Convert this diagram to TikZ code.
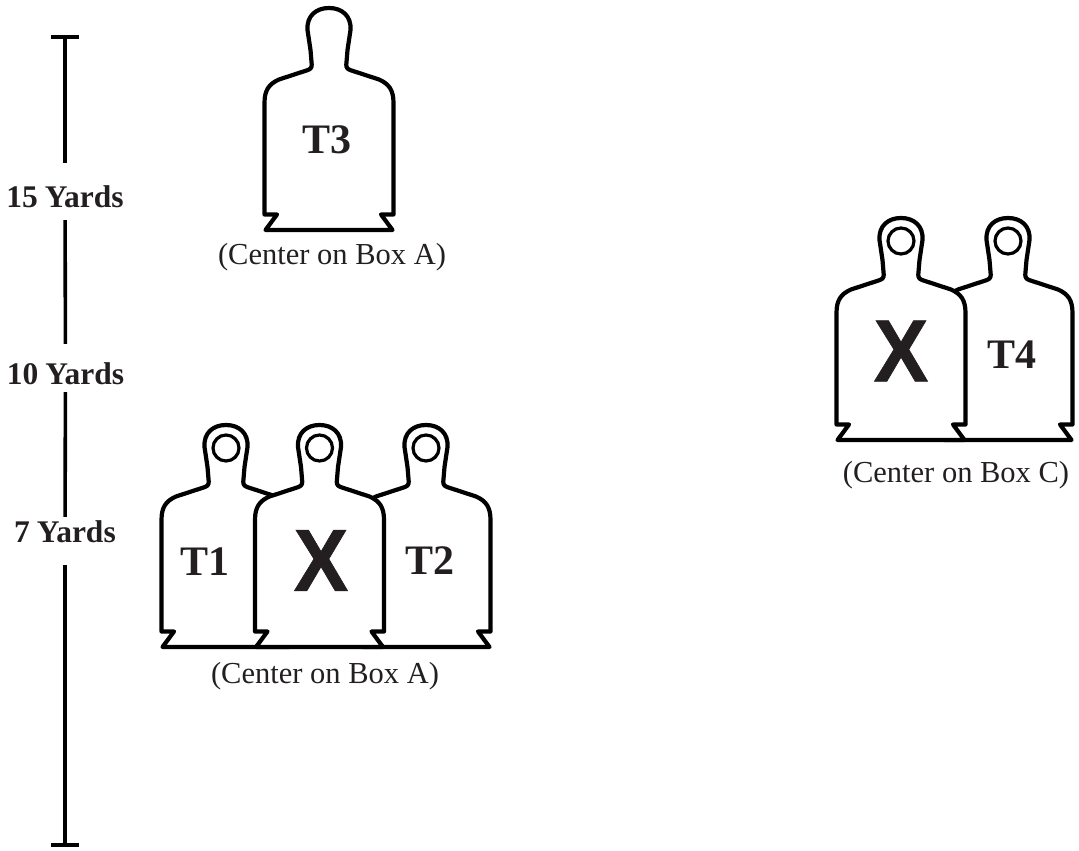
\documentclass[tikz,border=0pt]{standalone}
\usepackage{fontspec}
\setmainfont{Liberation Serif}
\newfontfamily\xfont[BoldFeatures={FakeBold=0.8}]{Liberation Sans}
\definecolor{ink}{HTML}{231F20}
\tikzset{
  target line/.style={draw=black,line width=4.2pt,line join=round,fill=white},
  tlabel/.style={text=ink,font=\fontsize{42}{44}\selectfont\bfseries,inner sep=0pt},
  xlabel/.style={text=ink,font=\fontsize{88}{90}\selectfont\xfont\bfseries,inner sep=0pt,xscale=0.93},
  caption/.style={text=ink,font=\fontsize{30.5}{33}\selectfont,inner sep=0pt},
  dist/.style={text=ink,font=\fontsize{31.5}{33}\selectfont\bfseries,inner sep=0pt,text width=130pt,align=center},
  ruler/.style={draw=black,line width=3.6pt},
  pics/body/.style={code={
    \path[target line] (-63.5,0) -- (-52,-15.5) -- (-64.5,-15.5) -- (-64.5,-127)
      .. controls (-64.5,-140) and (-60,-146) .. (-50,-150.5)
      -- (-21,-160) .. controls (-17,-161.5) and (-17,-164) .. (-17.5,-168)
      -- (-18.5,-180) -- (-21.5,-200) .. controls (-22.5,-214) and (-13,-222) .. (0,-222)
      .. controls (13,-222) and (22.5,-214) .. (21.5,-200)
      -- (18.5,-180) -- (17.5,-168) .. controls (17,-164) and (17,-161.5) .. (21,-160)
      -- (50,-150.5) .. controls (60,-146) and (64.5,-140) .. (64.5,-127)
      -- (64.5,-15.5) -- (52,-15.5) -- (63.5,0) -- cycle;
  }},
  pics/ring/.style={code={
    \path[draw=black,line width=3.2pt,fill=white] (0,-199) circle (13);
  }},
  pics/rtarget/.style={code={
    \pic {body}; \pic {ring};
  }}
}
\begin{document}
\begin{tikzpicture}[x=1pt,y=-1pt]
\useasboundingbox (0,0) rectangle (1079,851);
% ruler
\coordinate (top) at (65,37);
\coordinate (bot) at (65,845);
\coordinate (topl) at (51,37); \coordinate (topr) at (79,37);
\node[dist,text height=44pt,text depth=13pt] (d15) at (65,191.5) {\mbox{15\hspace{7pt}Yards}};
\node[dist,text height=40pt,text depth=8pt] (d10) at (65.5,368) {\mbox{10\hspace{7pt}Yards}};
\node[dist,text height=25pt,text depth=23pt] (d7) at (65,541) {\mbox{7\hspace{7pt}Yards}};
\coordinate (botl) at (51,845); \coordinate (botr) at (79,845);
\draw[ruler] (topl) -- (topr);
\draw[ruler] (botl) -- (botr);
\draw[ruler] (top) -- (d15);
\draw[ruler] (d15) -- (d10);
\draw[ruler] (d10) -- (d7);
\draw[ruler] (d7) -- (bot);
% T3
\pic at (329,230) {body};
\node[tlabel] (t3) at (327,140) {T3};
\node[caption] (c3) at (332,257) {(Center on Box A)};
% T1 X T2
\pic at (226,647) {rtarget};
\pic at (426,647) {rtarget};
\pic at (319.5,647) {rtarget};
\node[tlabel] (t1) at (205,562) {T1};
\node[xlabel] (x1) at (321,560.5) {X};
\node[tlabel] (t2) at (430,561) {T2};
\node[caption] (c1) at (325,676) {(Center on Box A)};
% X T4
\pic at (1008,440) {rtarget};
\pic at (901,440) {rtarget};
\node[xlabel] (x2) at (901,351) {X};
\node[tlabel] (t4) at (1012,355) {T4};
\node[caption] (c2) at (956,475) {(Center on Box C)};
\end{tikzpicture}
\end{document}
